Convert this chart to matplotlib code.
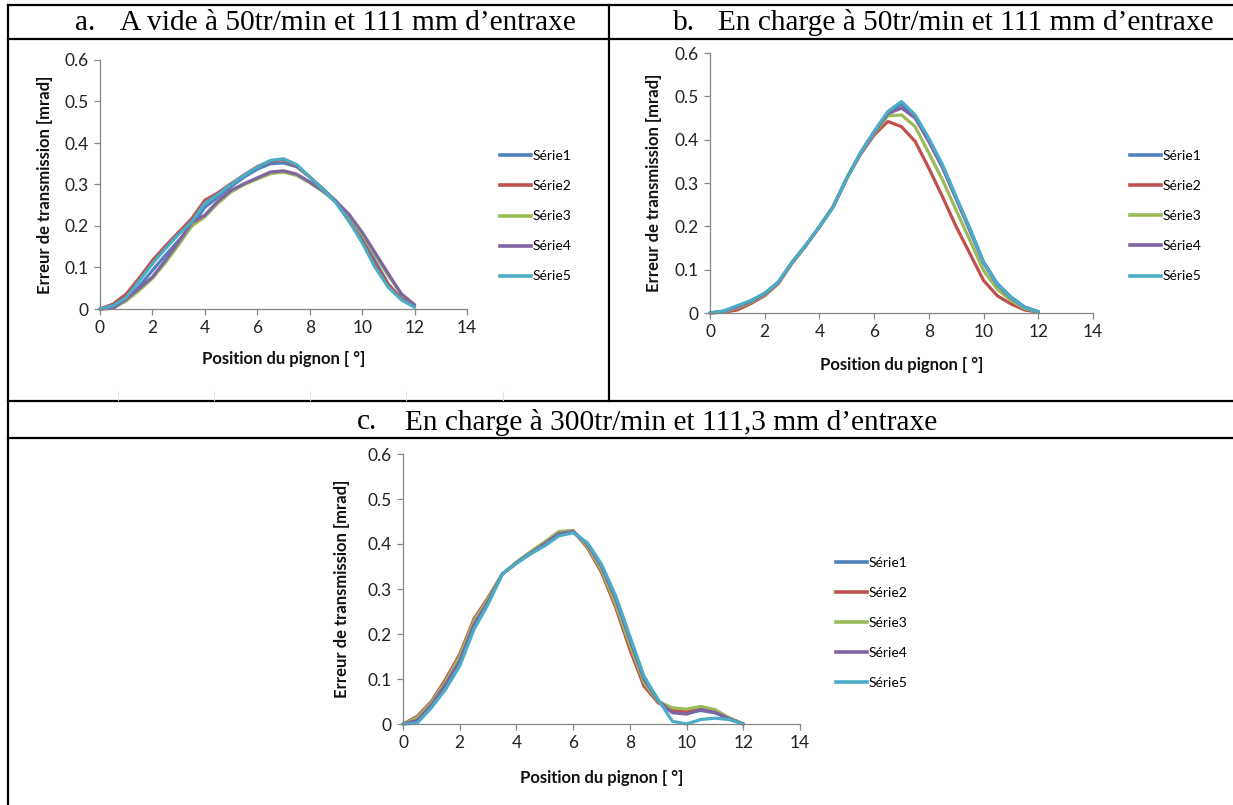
import matplotlib.pyplot as plt
from matplotlib.lines import Line2D

# Position du pignon [°] (same grid for every series)
X = [0, 0.5, 1, 1.5, 2, 2.5, 3, 3.5, 4, 4.5, 5, 5.5, 6, 6.5, 7, 7.5, 8,
     8.5, 9, 9.5, 10, 10.5, 11, 11.5, 12]
SERIES = ["Série1", "Série2", "Série3", "Série4", "Série5"]

# a. A vide à 50tr/min
A_S1 = [0, 0.004, 0.020, 0.055, 0.093, 0.130, 0.165, 0.200, 0.245, 0.270, 0.295,
        0.318, 0.337, 0.350, 0.352, 0.343, 0.318, 0.290, 0.260, 0.218, 0.170,
        0.115, 0.060, 0.024, 0.006]
A_S2 = [0, 0.012, 0.036, 0.075, 0.117, 0.152, 0.185, 0.218, 0.262, 0.280, 0.302,
        0.323, 0.343, 0.356, 0.360, 0.345, 0.318, 0.288, 0.258, 0.212, 0.165,
        0.108, 0.058, 0.025, 0.008]
A_S3 = [0, 0.002, 0.020, 0.045, 0.074, 0.112, 0.155, 0.200, 0.222, 0.255, 0.282,
        0.300, 0.313, 0.326, 0.330, 0.322, 0.304, 0.283, 0.258, 0.225, 0.180,
        0.130, 0.080, 0.036, 0.010]
A_S4 = [0, 0.002, 0.024, 0.050, 0.077, 0.118, 0.162, 0.208, 0.226, 0.260, 0.286,
        0.302, 0.316, 0.330, 0.333, 0.325, 0.306, 0.285, 0.260, 0.228, 0.185,
        0.135, 0.085, 0.036, 0.010]
A_S5 = [0, 0.008, 0.028, 0.068, 0.109, 0.146, 0.180, 0.210, 0.255, 0.276, 0.300,
        0.322, 0.342, 0.358, 0.362, 0.348, 0.318, 0.288, 0.256, 0.212, 0.160,
        0.100, 0.052, 0.022, 0.004]

# b. En charge à 50tr/min
B_S1 = [0, 0.004, 0.014, 0.027, 0.044, 0.071, 0.117, 0.156, 0.199, 0.245, 0.311,
        0.369, 0.418, 0.462, 0.482, 0.454, 0.400, 0.340, 0.266, 0.194, 0.118,
        0.068, 0.037, 0.014, 0.003]
B_S2 = [0, 0.002, 0.007, 0.022, 0.040, 0.068, 0.115, 0.155, 0.199, 0.245, 0.311,
        0.366, 0.411, 0.442, 0.430, 0.396, 0.334, 0.268, 0.199, 0.137, 0.075,
        0.040, 0.021, 0.007, 0.002]
B_S3 = [0, 0.003, 0.012, 0.025, 0.042, 0.070, 0.116, 0.156, 0.199, 0.245, 0.311,
        0.368, 0.415, 0.455, 0.457, 0.430, 0.369, 0.307, 0.237, 0.168, 0.098,
        0.055, 0.029, 0.010, 0.003]
B_S4 = [0, 0.004, 0.014, 0.027, 0.044, 0.071, 0.117, 0.156, 0.199, 0.245, 0.311,
        0.369, 0.417, 0.460, 0.473, 0.450, 0.395, 0.335, 0.262, 0.190, 0.115,
        0.065, 0.035, 0.013, 0.003]
B_S5 = [0, 0.005, 0.017, 0.029, 0.046, 0.072, 0.117, 0.156, 0.199, 0.245, 0.311,
        0.370, 0.419, 0.465, 0.488, 0.457, 0.403, 0.342, 0.268, 0.195, 0.117,
        0.067, 0.036, 0.013, 0.003]

# c. En charge à 300tr/min
C_S1 = [0, 0.010, 0.044, 0.090, 0.145, 0.222, 0.274, 0.333, 0.358, 0.379, 0.400,
        0.422, 0.428, 0.398, 0.345, 0.270, 0.180, 0.095, 0.050, 0.026, 0.024,
        0.030, 0.025, 0.012, 0]
C_S2 = [0, 0.017, 0.050, 0.099, 0.155, 0.233, 0.281, 0.333, 0.358, 0.381, 0.403,
        0.425, 0.429, 0.392, 0.337, 0.259, 0.166, 0.084, 0.047, 0.032, 0.028,
        0.034, 0.030, 0.013, 0]
C_S3 = [0, 0.014, 0.047, 0.094, 0.150, 0.228, 0.278, 0.333, 0.360, 0.383, 0.405,
        0.428, 0.430, 0.395, 0.342, 0.266, 0.176, 0.092, 0.050, 0.036, 0.033,
        0.039, 0.032, 0.014, 0]
C_S4 = [0, 0.008, 0.042, 0.088, 0.140, 0.220, 0.272, 0.333, 0.358, 0.380, 0.401,
        0.423, 0.428, 0.400, 0.350, 0.278, 0.188, 0.100, 0.052, 0.025, 0.022,
        0.032, 0.026, 0.012, 0]
C_S5 = [0, 0.002, 0.036, 0.077, 0.129, 0.210, 0.266, 0.333, 0.357, 0.378, 0.396,
        0.418, 0.425, 0.403, 0.355, 0.285, 0.195, 0.106, 0.054, 0.006, 0.000,
        0.010, 0.013, 0.010, 0]

TITLES = [("a.", "A vide à 50tr/min et 111 mm d’entraxe"),
          ("b.", "En charge à 50tr/min et 111 mm d’entraxe"),
          ("c.", "En charge à 300tr/min et 111,3 mm d’entraxe")]
X_TICKS = [0, 2, 4, 6, 8, 10, 12, 14]
Y_TICKS = [0, 0.1, 0.2, 0.3, 0.4, 0.5, 0.6]
Y_TICKLABELS = ["0", "0.1", "0.2", "0.3", "0.4", "0.5", "0.6"]

COLORS = ["#4F81BD", "#C0504D", "#9BBB59", "#8064A2", "#4BACC6"]
AXIS = "#868686"
SANS = ["Lato", "DejaVu Sans"]
SERIF = ["Liberation Serif", "DejaVu Serif"]

W, H = 1233, 805
fig = plt.figure(figsize=(W / 100, H / 100), dpi=100, facecolor="white")


def px_rect(left, right, bottom, top):
    """axes rect from pixel edges of the data area (x: 0..14, y: 0..0.6)"""
    return [left / W, 1 - bottom / H, (right - left) / W, (bottom - top) / H]


panels = [
    (px_rect(100, 467, 309, 60), [A_S1, A_S2, A_S3, A_S4, A_S5]),
    (px_rect(710, 1093, 313, 53), [B_S1, B_S2, B_S3, B_S4, B_S5]),
    (px_rect(403, 800, 724, 454), [C_S1, C_S2, C_S3, C_S4, C_S5]),
]
legend_anchor = [(1.09, 0.372), (1.097, 0.372), (1.091, 0.375)]
ylabel_x = [-0.128, -0.125, -0.134]

for (rect, data), anchor, ylx in zip(panels, legend_anchor, ylabel_x):
    ax = fig.add_axes(rect)
    for ys, name, color in zip(data, SERIES, COLORS):
        ax.plot(X, ys, color=color, linewidth=2.3, label=name,
                solid_joinstyle="round", solid_capstyle="round", clip_on=False)
    ax.set_xlim(0, 14)
    ax.set_ylim(0, 0.6)
    ax.set_xticks(X_TICKS)
    ax.set_yticks(Y_TICKS)
    ax.set_yticklabels(Y_TICKLABELS)
    for side in ("top", "right"):
        ax.spines[side].set_visible(False)
    for side in ("left", "bottom"):
        ax.spines[side].set_color(AXIS)
        ax.spines[side].set_linewidth(0.9)
    ax.tick_params(direction="out", length=4, width=0.9, color=AXIS,
                   labelsize=12.5, labelcolor="#222222", pad=4)
    for lab in ax.get_xticklabels() + ax.get_yticklabels():
        lab.set_family(SANS)
    ax.set_xlabel("Position du pignon [ °]", family=SANS, fontsize=12,
                  fontweight="bold", color="#111111")
    ax.set_ylabel("Erreur de transmission [mrad]", family=SANS, fontsize=12,
                  fontweight="bold", color="#111111")
    ax.xaxis.set_label_coords(0.5, -0.17)
    ax.yaxis.set_label_coords(ylx, 0.5)
    handles = [Line2D([], [], color=c, linewidth=2.6) for c in COLORS]
    ax.legend(handles, SERIES, loc="center left", bbox_to_anchor=anchor,
              frameon=False, prop={"family": SANS, "size": 10},
              handlelength=2.2, handletextpad=0.12, labelspacing=1.3,
              borderpad=0, borderaxespad=0)

# table borders
LW = 1.6
for y, x0, x1 in [(5, 8, W), (39, 8, W), (401, 8, W), (438, 8, W)]:
    fig.add_artist(Line2D([x0 / W, x1 / W], [1 - y / H, 1 - y / H],
                          color="black", linewidth=LW))
for x, y0, y1 in [(8, 5, 805), (609, 5, 401)]:
    fig.add_artist(Line2D([x / W, x / W], [1 - y0 / H, 1 - y1 / H],
                          color="black", linewidth=LW))
# faint leftover cell marks under panel a
for x in (118, 214, 310, 406, 503):
    fig.add_artist(Line2D([x / W, x / W], [1 - 392 / H, 1 - 400 / H],
                          color="#e2e2e2", linewidth=0.8))

# titles
for (letter, text), (lx, tx, y) in zip(TITLES, [(75, 120, 23), (673, 718, 23),
                                               (357, 405, 422)]):
    fig.text(lx / W, 1 - y / H, letter, family=SERIF, fontsize=21.2,
             ha="left", va="center")
    fig.text(tx / W, 1 - y / H, text, family=SERIF, fontsize=21.2,
             ha="left", va="center")

fig.savefig("out.png", dpi=100, facecolor="white")
